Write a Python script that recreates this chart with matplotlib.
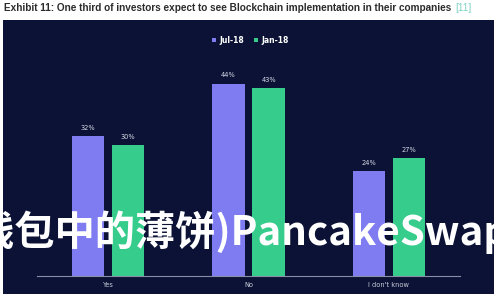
import matplotlib
matplotlib.use("Agg")
import matplotlib.pyplot as plt
from matplotlib.patches import Rectangle
import numpy as np

# data
categories = ["Yes", "No", "I don't know"]
jul18 = [32, 44, 24]
jan18 = [30, 43, 27]
series_names = ["Jul-18", "Jan-18"]
title = "Exhibit 11: One third of investors expect to see Blockchain implementation in their companies"
watermark = "钱包中的薄饼)PancakeSwap"

navy = "#0b1235"
purple = "#7f7cf2"
green = "#35cc8c"

plt.rcParams['font.family'] = ['Noto Sans CJK SC', 'DejaVu Sans']

fig = plt.figure(figsize=(5, 3), dpi=100)
fig.patch.set_facecolor("white")

# dark panel behind the chart
fig.patches.append(Rectangle((0.006, 0.02), 0.982, 0.913, transform=fig.transFigure,
                             facecolor=navy, edgecolor="none", zorder=-10))

# title with the reference marker in teal
t = fig.text(0.008, 0.972, title, fontsize=7.2, fontweight="bold", color="#2b2b2b",
             va="center", ha="left", family=["Liberation Sans"])

ax = fig.add_axes([0.074, 0.08, 0.846, 0.729])
ax.set_facecolor("none")
ax.annotate("[11]", xy=(1, 0.5), xycoords=t, xytext=(3, 0), textcoords="offset points",
            fontsize=7.2, color="#7fd3c4", va="center", ha="left", family=["Liberation Sans"],
            annotation_clip=False)

x = np.arange(len(categories))
w = 0.229
off = 0.143
b1 = ax.bar(x - off, jul18, w, color=purple, label=series_names[0])
b2 = ax.bar(x + off, jan18, w, color=green, label=series_names[1])

for bars, vals in [(b1, jul18), (b2, jan18)]:
    for b, v in zip(bars, vals):
        ax.text(b.get_x() + b.get_width() / 2, v + 1.2, f"{v}%", ha="center", va="bottom",
                fontsize=4.8, color="#d8dae8", family=["DejaVu Sans"])

ax.set_xlim(-0.507, 2.507)
ax.set_ylim(0, 50)
ax.set_xticks(x)
ax.set_xticklabels(categories, fontsize=4.8, color="#c8cad8", family=["DejaVu Sans"])
ax.tick_params(axis="x", length=0, pad=4)
ax.set_yticks([])
for s in ["top", "right", "left"]:
    ax.spines[s].set_visible(False)
ax.spines["bottom"].set_color("#8a8fa8")
ax.spines["bottom"].set_linewidth(0.8)

leg = fig.legend(handles=[b1, b2], labels=series_names, loc="center", bbox_to_anchor=(0.5, 0.866),
                 ncol=2, frameon=False, handlelength=0.6, handleheight=0.6,
                 handletextpad=0.35, columnspacing=1.3, labelcolor="white",
                 prop={"family": ["DejaVu Sans"], "weight": "bold", "size": 5.5})

# overlaid watermark text
fig.text(-0.052, 0.225, watermark, fontsize=29, fontweight="bold", color="white",
         ha="left", va="center", zorder=10)

fig.savefig("out.png", dpi=100)
